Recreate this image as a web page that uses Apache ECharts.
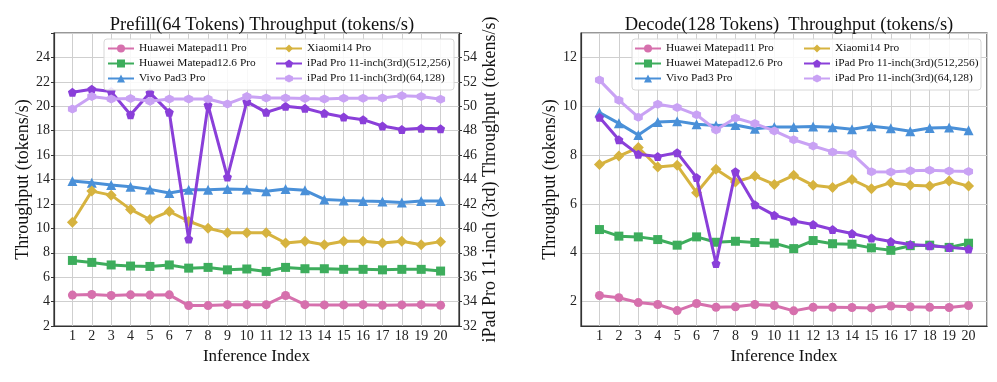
<!DOCTYPE html>
<html><head><meta charset="utf-8">
<script src="https://cdn.jsdelivr.net/npm/echarts@6/dist/echarts.min.js"></script>
<style>html,body{margin:0;padding:0;background:#fff}#c{width:997px;height:382px}</style>
</head><body><div id="c"></div>
<script>
const indices = [1,2,3,4,5,6,7,8,9,10,11,12,13,14,15,16,17,18,19,20];
const seriesNames = ['Huawei Matepad11 Pro','Huawei Matepad12.6 Pro','Vivo Pad3 Pro','Xiaomi14 Pro','iPad Pro 11-inch(3rd)(512,256)','iPad Pro 11-inch(3rd)(64,128)'];
// Prefill (left axis for first four, right axis for iPads)
const p_m11 = [4.53,4.58,4.50,4.55,4.53,4.55,3.67,3.67,3.75,3.75,3.75,4.50,3.75,3.73,3.73,3.75,3.70,3.73,3.75,3.70];
const p_m126 = [7.37,7.21,7.00,6.91,6.88,7.00,6.74,6.80,6.60,6.67,6.47,6.80,6.69,6.69,6.64,6.64,6.60,6.64,6.64,6.50];
const p_vivo = [13.88,13.74,13.55,13.41,13.19,12.89,13.16,13.16,13.22,13.19,13.03,13.22,13.11,12.37,12.29,12.23,12.20,12.12,12.23,12.23];
const p_xiaomi = [10.50,13.05,12.72,11.55,10.72,11.38,10.58,10.00,9.63,9.63,9.63,8.80,8.94,8.65,8.94,8.94,8.80,8.94,8.65,8.91];
const p_ipad512 = [51.15,51.40,51.20,49.30,51.10,49.50,39.13,50.10,44.20,50.38,49.50,50.00,49.83,49.42,49.12,48.90,48.38,48.10,48.20,48.16];
const p_ipad64 = [49.78,50.79,50.60,50.63,50.41,50.60,50.60,50.60,50.19,50.79,50.68,50.68,50.63,50.60,50.65,50.65,50.68,50.87,50.79,50.57];
// Decode
const d_m11 = [2.25,2.16,1.96,1.88,1.63,1.92,1.77,1.79,1.88,1.84,1.62,1.77,1.77,1.76,1.74,1.82,1.79,1.77,1.76,1.84];
const d_m126 = [4.95,4.68,4.65,4.54,4.31,4.65,4.43,4.47,4.42,4.39,4.17,4.50,4.37,4.35,4.20,4.10,4.29,4.31,4.22,4.39];
const d_vivo = [9.74,9.30,8.82,9.36,9.39,9.26,9.21,9.23,9.08,9.15,9.15,9.17,9.14,9.06,9.18,9.10,8.98,9.11,9.13,9.02];
const d_xiaomi = [7.61,7.96,8.31,7.51,7.58,6.46,7.42,6.90,7.14,6.80,7.17,6.76,6.67,7.00,6.62,6.87,6.76,6.73,6.94,6.73];
const d_ipad512 = [9.55,8.63,8.03,7.94,8.10,7.08,3.56,7.32,5.97,5.54,5.30,5.16,4.95,4.79,4.60,4.46,4.34,4.29,4.22,4.15];
const d_ipad64 = [11.07,10.25,9.55,10.08,9.95,9.65,9.03,9.52,9.29,8.99,8.63,8.37,8.13,8.06,7.32,7.31,7.36,7.38,7.35,7.33];

const colors = ['#d670ad','#3dad5c','#4a90d8','#d6b33f','#8a3fd9','#c9a2f4'];
const PENT = 'path://M0,-1 L0.951,-0.309 L0.588,0.809 L-0.588,0.809 L-0.951,-0.309 Z';
const HEX = 'path://M0,-1 L0.866,-0.5 L0.866,0.5 L0,1 L-0.866,0.5 L-0.866,-0.5 Z';
const symbols = ['circle','rect','triangle','diamond',PENT,HEX];
const sizes = [9,9,10,11,9,9];
const FONT = '"Liberation Serif","Times New Roman",serif';

function mk(i, vals, xi, yi){
  return {
    name: seriesNames[i], type:'line', xAxisIndex: xi, yAxisIndex: yi,
    data: indices.map((x,k)=>[x, vals[k]]),
    symbol: symbols[i], symbolSize: sizes[i],
    lineStyle:{width:3, color: colors[i]},
    itemStyle:{color: colors[i]},
    z: 2 + i*0.1, animation:false
  };
}
const xAx = (gi)=>({
  type:'value', gridIndex: gi, min:0.05, max:20.95, splitNumber:20,
  name:'Inference Index', nameLocation:'middle', nameGap:11,
  nameTextStyle:{fontFamily:FONT, fontSize:17, color:'#111'},
  axisLine:{show:true, onZero:false, lineStyle:{color:'#333', width:1.2}},
  axisTick:{show:false},
  axisLabel:{fontFamily:FONT, fontSize:14, color:'#222', margin:3,
    formatter:(v)=> (Math.abs(v-Math.round(v))<1e-6 && v>=1 && v<=20) ? String(Math.round(v)) : ''},
  splitLine:{show:true, lineStyle:{color:'#cfcfcf', width:1}}
});
const lblStyle = {fontFamily:FONT, fontSize:14, color:'#222', margin:4};
const legTxt = {fontFamily:FONT, fontSize:11.4, color:'#111'};

const option = {
  backgroundColor:'#fff',
  animation:false,
  title:[
    {text:'Prefill(64 Tokens) Throughput (tokens/s)', left:257, top:11, textAlign:'center',
     textStyle:{fontFamily:FONT, fontSize:18.5, fontWeight:'normal', color:'#111'}},
    {text:'Decode(128 Tokens)  Throughput (tokens/s)', left:784, top:11, textAlign:'center',
     textStyle:{fontFamily:FONT, fontSize:18.5, fontWeight:'normal', color:'#111'}}
  ],
  grid:[
    {left:54, top:33, width:405, height:293, show:true, borderColor:'#333', borderWidth:1.2},
    {left:581, top:33, width:406, height:293, show:true, borderColor:'#333', borderWidth:1.2}
  ],
  xAxis:[xAx(0), xAx(1)],
  yAxis:[
    {type:'value', gridIndex:0, min:2, max:26, interval:2, position:'left',
     name:'Throughput (tokens/s)', nameLocation:'middle', nameGap:17,
     nameTextStyle:{fontFamily:FONT, fontSize:18, color:'#111'},
     axisLine:{show:true, lineStyle:{color:'#333', width:1.2}},
     axisTick:{show:true, length:3, inside:false, lineStyle:{color:'#333'}},
     axisLabel:Object.assign({}, lblStyle, {formatter:(v)=> v>=25 ? '' : String(v)}),
     splitLine:{show:true, lineStyle:{color:'#cfcfcf', width:1}}},
    {type:'value', gridIndex:0, min:32, max:56, interval:2, position:'right',
     name:'iPad Pro 11-inch (3rd) Throughput (tokens/s)', nameLocation:'middle', nameGap:22,
     nameTextStyle:{fontFamily:FONT, fontSize:18, color:'#111'},
     axisLine:{show:true, lineStyle:{color:'#333', width:1.2}},
     axisTick:{show:true, length:3, lineStyle:{color:'#333'}},
     axisLabel:Object.assign({}, lblStyle, {formatter:(v)=> v>=55 ? '' : String(v)}),
     splitLine:{show:false}},
    {type:'value', gridIndex:1, min:1, max:13, splitNumber:6, position:'left',
     name:'Throughput (tokens/s)', nameLocation:'middle', nameGap:14,
     nameTextStyle:{fontFamily:FONT, fontSize:18, color:'#111'},
     axisLine:{show:true, lineStyle:{color:'#333', width:1.2}},
     axisTick:{show:false},
     axisLabel:Object.assign({}, lblStyle, {formatter:(v)=> (v%2===0 && v>=2 && v<=12) ? String(v) : ''}),
     splitLine:{show:true, lineStyle:{color:'#cfcfcf', width:1}}}
  ],
  graphic:[
    {type:'rect', shape:{x:104, y:39, width:350, height:51, r:3}, z:3,
     style:{fill:'rgba(255,255,255,0.85)', stroke:'#d8d8d8', lineWidth:1}},
    {type:'rect', shape:{x:632, y:39, width:349, height:51, r:3}, z:3,
     style:{fill:'rgba(255,255,255,0.85)', stroke:'#d8d8d8', lineWidth:1}}
  ],
  legend:[
    {orient:'vertical', left:107, top:43, padding:0, itemGap:4, itemWidth:26, itemHeight:10, z:5,
     data:seriesNames.slice(0,3), textStyle:legTxt, selectedMode:false},
    {orient:'vertical', left:275, top:43, padding:0, itemGap:4, itemWidth:26, itemHeight:10, z:5,
     data:seriesNames.slice(3,6), textStyle:legTxt, selectedMode:false},
    {orient:'vertical', left:634, top:43, padding:0, itemGap:4, itemWidth:26, itemHeight:10, z:5,
     data:seriesNames.slice(0,3), textStyle:legTxt, selectedMode:false},
    {orient:'vertical', left:803, top:43, padding:0, itemGap:4, itemWidth:26, itemHeight:10, z:5,
     data:seriesNames.slice(3,6), textStyle:legTxt, selectedMode:false}
  ],
  series:[
    mk(0,p_m11,0,0), mk(1,p_m126,0,0), mk(2,p_vivo,0,0), mk(3,p_xiaomi,0,0),
    mk(4,p_ipad512,0,1), mk(5,p_ipad64,0,1),
    mk(0,d_m11,1,2), mk(1,d_m126,1,2), mk(2,d_vivo,1,2), mk(3,d_xiaomi,1,2),
    mk(4,d_ipad512,1,2), mk(5,d_ipad64,1,2)
  ]
};
const chart = echarts.init(document.getElementById('c'), null, {renderer:'canvas'});
chart.setOption(option);
</script>
</body></html>
